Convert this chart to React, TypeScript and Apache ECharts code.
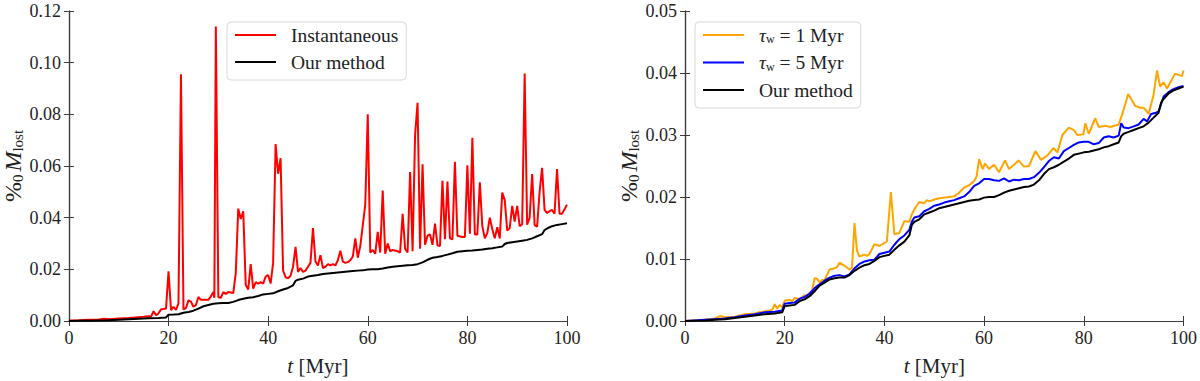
import React, { useEffect, useRef } from "react";
import * as echarts from "echarts";

const xTicks = [0, 20, 40, 60, 80, 100];
const leftYMax = 0.12;
const rightYMax = 0.05;

const instantaneous: [number, number][] = [
  [0, 0.0002], [2, 0.0003], [4, 0.0005], [6, 0.0006], [7, 0.0009], [8, 0.0007], [10, 0.001], [12, 0.0012],
  [14, 0.0015], [15, 0.0016], [16, 0.0018], [16.5, 0.0017], [17, 0.0038], [17.5, 0.0022], [18, 0.003],
  [18.5, 0.0045], [19.5, 0.0048], [20, 0.0192], [20.5, 0.0042], [21, 0.0055], [21.5, 0.0043], [22, 0.0068],
  [22.5, 0.0955], [23, 0.0045], [23.5, 0.005], [24, 0.008], [24.5, 0.0075], [25, 0.0055], [25.5, 0.0062],
  [26, 0.0093], [26.5, 0.0082], [27, 0.0082], [28, 0.0082], [28.5, 0.0095], [29, 0.0112], [29.2, 0.009],
  [29.5, 0.114], [30, 0.0092], [30.5, 0.009], [31, 0.0112], [31.5, 0.0105], [32, 0.0112], [33, 0.0108],
  [33.5, 0.0185], [34, 0.0435], [34.5, 0.0395], [35, 0.0425], [35.5, 0.014], [36, 0.0122], [36.5, 0.022],
  [37, 0.0125], [37.5, 0.015], [38, 0.0145], [38.5, 0.015], [39, 0.0145], [39.5, 0.0172], [40, 0.0178],
  [40.5, 0.0145], [41, 0.0225], [41.5, 0.0685], [42, 0.057], [42.5, 0.063], [43, 0.0195], [43.5, 0.017],
  [44, 0.0165], [44.5, 0.0175], [45, 0.021], [45.5, 0.0287], [46, 0.019], [46.5, 0.0205], [47, 0.019],
  [47.5, 0.0195], [48, 0.021], [48.5, 0.0225], [49, 0.036], [49.5, 0.023], [50, 0.0215], [50.5, 0.0255],
  [51, 0.0205], [51.5, 0.021], [52, 0.022], [52.5, 0.0215], [53, 0.022], [53.5, 0.0215], [54, 0.0235],
  [54.5, 0.0272], [55, 0.023], [55.5, 0.0225], [56, 0.0228], [56.5, 0.0235], [57, 0.025], [57.5, 0.032],
  [58, 0.0245], [58.5, 0.029], [59, 0.037], [59.5, 0.045], [60, 0.08], [60.5, 0.0265], [61, 0.0275],
  [61.5, 0.026], [62, 0.0345], [62.5, 0.0265], [63, 0.0505], [63.5, 0.026], [64, 0.03], [64.5, 0.027],
  [65, 0.0275], [66, 0.027], [66.5, 0.0265], [67, 0.0415], [67.5, 0.028], [68, 0.0265], [68.5, 0.0577],
  [69, 0.027], [69.5, 0.072], [70, 0.0845], [70.5, 0.028], [71, 0.0607], [71.5, 0.0295], [72, 0.033],
  [72.5, 0.0335], [73, 0.0295], [73.5, 0.0377], [74, 0.0293], [74.5, 0.029], [75, 0.0543], [75.5, 0.0317],
  [76, 0.054], [76.5, 0.032], [77, 0.0316], [77.5, 0.0616], [78, 0.033], [79, 0.0325], [79.5, 0.0325],
  [80, 0.0603], [80.5, 0.0338], [81, 0.0709], [81.5, 0.0335], [82, 0.0335], [82.5, 0.0537], [83, 0.0367],
  [83.5, 0.032], [84, 0.034], [84.5, 0.04], [85, 0.0355], [85.5, 0.032], [86, 0.0363], [86.5, 0.032],
  [87, 0.0497], [87.5, 0.0468], [88, 0.035], [88.5, 0.036], [89, 0.0446], [89.5, 0.0385], [90, 0.0446],
  [90.5, 0.0367], [91, 0.0375], [91.5, 0.0958], [92, 0.0373], [92.5, 0.04], [93, 0.0569], [93.5, 0.0371],
  [94, 0.0365], [94.5, 0.05], [95, 0.0593], [95.5, 0.043], [96, 0.0418], [96.5, 0.0425], [97, 0.043],
  [97.5, 0.0415], [98, 0.0588], [98.5, 0.0415], [99, 0.0415], [100, 0.045],
];

const ourMethod: [number, number][] = [
  [0, 0], [2, 0.00005], [4, 0.0001], [6, 0.0002], [8, 0.0003], [10, 0.0005], [12, 0.0007], [14, 0.0009],
  [16, 0.0011], [18, 0.0012], [19.5, 0.0014], [20, 0.0024], [21, 0.0025], [22, 0.0026], [23, 0.0032],
  [24, 0.0035], [25, 0.004], [26, 0.0048], [27, 0.0057], [28, 0.0062], [29, 0.0067], [30, 0.0069],
  [31, 0.007], [32, 0.007], [33, 0.0074], [34, 0.0081], [35, 0.0086], [36, 0.009], [37, 0.0092],
  [38, 0.0097], [39, 0.0103], [40, 0.0105], [41, 0.0107], [42, 0.0115], [43, 0.0122], [44, 0.0128],
  [45, 0.0138], [45.5, 0.0155], [46, 0.016], [47, 0.0164], [48, 0.0172], [49, 0.0175], [50, 0.0178],
  [51, 0.0182], [52, 0.0184], [53, 0.0186], [54, 0.0188], [55, 0.019], [56, 0.0192], [57, 0.0194],
  [58, 0.0195], [59, 0.0196], [60, 0.0199], [61, 0.02], [62, 0.02], [63, 0.0203], [64, 0.0207],
  [65, 0.021], [66, 0.0212], [67, 0.0214], [68, 0.0216], [69, 0.0217], [70, 0.022], [71, 0.0227],
  [72, 0.0237], [73, 0.0245], [74, 0.0248], [75, 0.0252], [76, 0.0257], [77, 0.0262], [78, 0.0268],
  [79, 0.027], [80, 0.0272], [81, 0.0273], [82, 0.0275], [83, 0.0277], [84, 0.028], [85, 0.0282],
  [86, 0.0285], [87, 0.0288], [87.5, 0.0298], [88, 0.0302], [89, 0.0305], [90, 0.0308], [91, 0.0311],
  [92, 0.0314], [93, 0.032], [94, 0.0328], [95, 0.0336], [95.5, 0.0352], [96, 0.0358], [97, 0.0367],
  [98, 0.0372], [99, 0.0375], [100, 0.0378],
];

const tau5: [number, number][] = [
  [0, 0], [2, 0.0001], [4, 0.0002], [6, 0.0003], [8, 0.0004], [10, 0.0006], [12, 0.0009], [14, 0.0011],
  [16, 0.0014], [18, 0.0015], [19.5, 0.0017], [20, 0.0028], [21, 0.0029], [22, 0.003], [23, 0.0036],
  [24, 0.0039], [25, 0.0044], [26, 0.0053], [27, 0.0059], [28, 0.0065], [29, 0.007], [30, 0.0073],
  [31, 0.0074], [32, 0.0072], [33, 0.0075], [34, 0.0085], [35, 0.0092], [36, 0.0096], [37, 0.0098],
  [38, 0.0099], [39, 0.0108], [40, 0.011], [41, 0.0112], [42, 0.0123], [43, 0.0132], [44, 0.0138],
  [45, 0.0147], [45.5, 0.016], [46, 0.0167], [47, 0.0169], [48, 0.0177], [49, 0.0181], [50, 0.0186],
  [51, 0.0188], [52, 0.0191], [53, 0.0193], [54, 0.0195], [55, 0.0198], [56, 0.0201], [57, 0.0208],
  [58, 0.0218], [59, 0.0222], [60, 0.0229], [61, 0.0229], [62, 0.0227], [63, 0.0226], [64, 0.023],
  [65, 0.0225], [66, 0.0228], [67, 0.0227], [68, 0.0229], [69, 0.0229], [70, 0.0232], [71, 0.0239],
  [72, 0.0248], [73, 0.0258], [74, 0.0264], [75, 0.0262], [76, 0.0274], [77, 0.0279], [78, 0.0284],
  [79, 0.0288], [80, 0.0289], [81, 0.0289], [82, 0.0285], [83, 0.0287], [84, 0.0296], [85, 0.0298],
  [86, 0.0296], [87, 0.0299], [87.5, 0.0319], [88, 0.0312], [89, 0.0311], [90, 0.0314], [91, 0.0317],
  [92, 0.0326], [92.7, 0.0322], [93.5, 0.0334], [94.5, 0.0336], [95, 0.0338], [96, 0.0362], [97, 0.0369],
  [98, 0.0374], [99, 0.0377], [100, 0.0379],
];

const tau1: [number, number][] = [
  [0, 0], [2, 0.0001], [4, 0.0002], [6, 0.0004], [7, 0.0008], [8, 0.0006], [10, 0.0007], [12, 0.0011],
  [14, 0.0012], [15, 0.0014], [17, 0.0017], [17.5, 0.0018], [18, 0.0027], [18.5, 0.002], [19, 0.0026],
  [19.5, 0.0022], [20, 0.0033], [21, 0.0034], [21.5, 0.0032], [22, 0.0037], [23, 0.0035], [24, 0.0042],
  [24.5, 0.0038], [25, 0.0046], [25.5, 0.0049], [26, 0.0069], [26.5, 0.0068], [27, 0.0062], [27.5, 0.0066],
  [28, 0.0066], [29, 0.0083], [30, 0.0085], [30.5, 0.0087], [31, 0.0094], [32, 0.0089], [33, 0.0083],
  [33.5, 0.0086], [34, 0.0158], [34.5, 0.0113], [35, 0.0104], [36, 0.0107], [36.5, 0.0105], [37, 0.0108],
  [38, 0.0124], [39, 0.0121], [40, 0.0126], [40.5, 0.0128], [41.3, 0.0208], [42, 0.014], [43, 0.0142],
  [44, 0.0161], [45, 0.016], [45.5, 0.0172], [46, 0.018], [47, 0.0192], [48, 0.019], [48.5, 0.0195],
  [49, 0.0193], [50, 0.0196], [51, 0.0198], [52, 0.0199], [53, 0.02], [54, 0.0201], [55, 0.0207],
  [56, 0.0215], [57, 0.0219], [58, 0.0226], [58.5, 0.0233], [59, 0.0261], [59.7, 0.0245], [60.2, 0.0254],
  [61, 0.0245], [62, 0.0252], [63, 0.024], [64.2, 0.0259], [65, 0.0245], [66, 0.0252], [66.9, 0.0259],
  [68, 0.0249], [69, 0.025], [70.3, 0.0274], [71.4, 0.026], [72.7, 0.0267], [73.9, 0.0279], [74.7, 0.0272],
  [75.7, 0.03], [77, 0.0312], [78, 0.0308], [78.7, 0.03], [79.9, 0.0301], [80.3, 0.0319], [81, 0.0302],
  [82.3, 0.0327], [83, 0.0313], [84.3, 0.0315], [85.3, 0.0313], [87, 0.0317], [88, 0.0341], [88.9, 0.0366],
  [90.3, 0.0347], [91.3, 0.0344], [92, 0.0344], [93, 0.0334], [94, 0.0365], [94.7, 0.0404], [95.3, 0.0378],
  [96, 0.0385], [96.7, 0.0375], [98.3, 0.0399], [99.7, 0.0395], [100, 0.0404],
];

const NAME_INST = "Instantaneous";
const NAME_OUR = "Our method";
const NAME_T1 = "τw = 1 Myr";
const NAME_T5 = "τw = 5 Myr";

const FONT = "Liberation Serif";
const AX = "#3a3a3a";
const TXT = "#222";

function axisBase(showLabel: boolean) {
  return {
    axisLine: { show: true, lineStyle: { color: AX, width: 1.2 } },
    axisTick: { show: true, inside: true, length: 5, lineStyle: { color: AX, width: 1 } },
    splitLine: { show: false },
    axisLabel: { show: showLabel, color: TXT, fontFamily: FONT, fontSize: 18, margin: 8 },
  };
}

const yName = "{n|%}{s|0}{g| }{m|M}{s|lost}";
const yNameStyle = {
  fontFamily: FONT,
  fontSize: 24,
  color: TXT,
  rich: {
    n: { fontFamily: FONT, fontSize: 24, color: TXT },
    m: { fontFamily: FONT, fontSize: 24, fontStyle: "italic", color: TXT },
    s: { fontFamily: FONT, fontSize: 15, color: TXT, padding: [10, 0, 0, 0] },
    g: { fontFamily: FONT, fontSize: 12, color: TXT },
  },
};
const xName = "{i|t} [Myr]";
const xNameStyle = {
  fontFamily: FONT,
  fontSize: 21,
  color: TXT,
  rich: {
    i: { fontFamily: FONT, fontSize: 21, fontStyle: "italic", color: TXT },
  },
};

function xAxes(gridIndex: number) {
  return [
    {
      type: "value", gridIndex, min: xTicks[0], max: xTicks[xTicks.length - 1], interval: 20,
      position: "bottom", ...axisBase(true),
      name: xName, nameLocation: "middle", nameGap: 34, nameTextStyle: xNameStyle,
    },
    {
      type: "value", gridIndex, min: xTicks[0], max: xTicks[xTicks.length - 1], interval: 20,
      position: "top", ...axisBase(false),
    },
  ];
}

function yAxes(gridIndex: number, max: number, interval: number) {
  return [
    {
      type: "value", gridIndex, min: 0, max, interval, position: "left",
      ...axisBase(true),
      axisLabel: { ...axisBase(true).axisLabel, formatter: (v: number) => v.toFixed(2) },
      name: yName, nameLocation: "middle", nameGap: 40, nameRotate: 90, nameTextStyle: yNameStyle,
    },
    {
      type: "value", gridIndex, min: 0, max, interval, position: "right",
      ...axisBase(false),
    },
  ];
}

const legendText = {
  fontFamily: FONT,
  fontSize: 19.5,
  color: TXT,
  padding: [0, 0, 0, 10],
  rich: {
    i: { fontFamily: FONT, fontSize: 19.5, fontStyle: "italic", color: TXT },
    s: { fontFamily: FONT, fontSize: 12, color: TXT, padding: [8, 0, 0, 0] },
    r: { fontFamily: FONT, fontSize: 19.5, color: TXT },
  },
};

function legendFormatter(name: string) {
  if (name === NAME_T1) return "{i|τ}{s|w}{r| = 1 Myr}";
  if (name === NAME_T5) return "{i|τ}{s|w}{r| = 5 Myr}";
  return name;
}

function lineSeries(name: string, data: [number, number][], color: string, axIdx: number, z: number) {
  return {
    type: "line",
    name,
    data,
    xAxisIndex: axIdx,
    yAxisIndex: axIdx,
    symbol: "none",
    showSymbol: false,
    lineStyle: { color, width: 2 },
    itemStyle: { color },
    z,
  };
}

const legendBase = {
  orient: "vertical",
  icon: "rect",
  itemWidth: 41,
  itemHeight: 2,
  padding: [3, 8, 8, 8],
  borderColor: "#d8d8d8",
  borderWidth: 1,
  borderRadius: 4,
  backgroundColor: "#fff",
  textStyle: legendText,
  formatter: legendFormatter,
  selectedMode: false,
};

export default function App() {
  const ref = useRef<HTMLDivElement>(null);
  useEffect(() => {
    document.body.style.margin = "0";
    if (!ref.current) return;
    const chart = echarts.init(ref.current, null, { renderer: "svg" });
    chart.setOption({
      animation: false,
      backgroundColor: "#ffffff",
      grid: [
        { left: 67, top: 11, width: 500, height: 318 },
        { left: 685, top: 11, width: 500, height: 318 },
      ],
      xAxis: [...xAxes(0), ...xAxes(1)],
      yAxis: [...yAxes(0, leftYMax, 0.02), ...yAxes(1, rightYMax, 0.01)],
      legend: [
        { ...legendBase, left: 227, top: 22, itemGap: 7, data: [NAME_INST, NAME_OUR] },
        { ...legendBase, left: 695, top: 22, itemGap: 7.5, data: [NAME_T1, NAME_T5, NAME_OUR] },
      ],
      series: [
        lineSeries(NAME_INST, instantaneous, "#ff0000", 0, 2),
        lineSeries(NAME_OUR, ourMethod, "#000000", 0, 3),
        lineSeries(NAME_T1, tau1, "#ffa500", 2, 2),
        lineSeries(NAME_T5, tau5, "#0000ff", 2, 3),
        lineSeries(NAME_OUR, ourMethod, "#000000", 2, 4),
      ],
    });
    return () => chart.dispose();
  }, []);
  return <div ref={ref} style={{ width: 1200, height: 381 }} />;
}
